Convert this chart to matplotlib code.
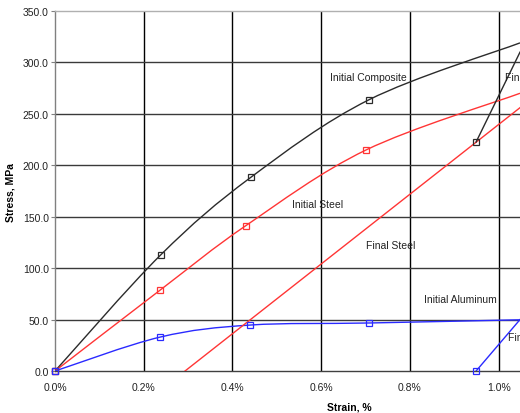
import numpy as np
import matplotlib
matplotlib.use("Agg")
import matplotlib.pyplot as plt
from matplotlib.path import Path
from matplotlib.patches import PathPatch

plt.rcParams['font.family'] = ['Liberation Sans', 'DejaVu Sans']

# strain in %, stress in MPa
comp_init_x = [0.0, 0.238, 0.441, 0.708, 1.048]
comp_init_y = [0.0, 112.8, 188.2, 263.8, 319.0]
comp_final_x = [0.949, 1.048]
comp_final_y = [222.6, 310.0]

steel_init_x = [0.0, 0.237, 0.430, 0.701, 1.048]
steel_init_y = [0.0, 78.7, 141.3, 214.9, 270.0]
steel_final_x = [0.293, 1.048]
steel_final_y = [0.0, 256.0]

alu_init_x = [0.0, 0.237, 0.440, 0.708, 1.048]
alu_init_y = [0.0, 33.0, 44.7, 46.7, 49.8]
alu_final_x = [0.949, 1.048]
alu_final_y = [0.0, 50.0]

labels = ["Initial Composite", "Final Composite", "Initial Steel",
          "Final Steel", "Initial Aluminum", "Final Aluminum"]
label_x = [0.619, 1.015, 0.535, 0.700, 0.832, 1.021]
label_y = [285.5, 285.5, 162.0, 122.5, 70.0, 33.0]

x_ticks = [0.0, 0.2, 0.4, 0.6, 0.8, 1.0]
y_ticks = [0, 50, 100, 150, 200, 250, 300, 350]


def smooth_path(xs, ys):
    # Excel-style smoothed line: cubic bezier through every point
    p = np.column_stack([xs, ys])
    n = len(p)
    verts = [p[0]]
    codes = [Path.MOVETO]
    for i in range(n - 1):
        p0 = p[i - 1] if i > 0 else p[i]
        p3 = p[i + 2] if i + 2 < n else p[i + 1]
        c1 = p[i] + (p[i + 1] - p0) / 6.0
        c2 = p[i + 1] - (p3 - p[i]) / 6.0
        verts += [c1, c2, p[i + 1]]
        codes += [Path.CURVE4] * 3
    return Path(verts, codes)


fig = plt.figure(figsize=(5.2, 4.14), dpi=100)
ax = fig.add_axes([0.1058, 0.1014, 0.8942, 0.8696])

black = '#2b2b2b'
red = '#ff3535'
blue = '#2a2aff'

series = [
    (comp_init_x, comp_init_y, black, 4),
    (steel_init_x, steel_init_y, red, 4),
    (alu_init_x, alu_init_y, blue, 4),
]
for xs, ys, col, nm in series:
    ax.add_patch(PathPatch(smooth_path(xs, ys), facecolor='none',
                           edgecolor=col, lw=1.0, zorder=3))
    ax.plot(xs[:nm], ys[:nm], ls='none', marker='s', ms=4.5, mfc='none',
            mec=col, mew=0.9, zorder=4, clip_on=False)

ax.plot(steel_final_x, steel_final_y, color=red, lw=1.0, zorder=3)
ax.plot(alu_final_x, alu_final_y, color=blue, lw=1.0, zorder=3)
ax.plot(alu_final_x[:1], alu_final_y[:1], ls='none', marker='s', ms=4.5,
        mfc='none', mec=blue, mew=0.9, zorder=4, clip_on=False)
ax.plot(comp_final_x, comp_final_y, color=black, lw=1.0, zorder=3)
ax.plot(comp_final_x[:1], comp_final_y[:1], ls='none', marker='s', ms=4.5,
        mfc='none', mec=black, mew=0.9, zorder=5)

# labels run off the right edge like in the original
for t, lx, ly in zip(labels, label_x, label_y):
    ax.text(lx, ly, t, fontsize=7.5, color='#222222', va='center', ha='left',
            clip_on=True, zorder=6)

ax.set_xlim(0, 1.048)
ax.set_ylim(0, 350)
ax.set_xticks(x_ticks)
ax.set_yticks(y_ticks)
ax.set_xticklabels(["%.1f%%" % v for v in x_ticks])
ax.set_yticklabels(["%.1f" % v for v in y_ticks])
for v in x_ticks[1:]:
    ax.axvline(v, color='black', lw=1.0, zorder=1)
for v in y_ticks[1:-1]:
    ax.axhline(v, color='#3a3a3a', lw=1.0, zorder=1)

ax.tick_params(axis='y', length=3, width=0.8, color='#808080', labelsize=7.5,
               labelcolor='#222222', pad=1.5)
ax.tick_params(axis='x', length=0, labelsize=7.5, labelcolor='#222222', pad=8)
ax.spines['left'].set_color('#808080')
ax.spines['top'].set_color('#b0b0b0')
ax.spines['bottom'].set_color('#404040')
ax.spines['right'].set_visible(False)
for s in ax.spines.values():
    s.set_linewidth(1.0)

ax.set_xlabel("Strain, %", fontsize=7.5, fontweight='bold')
ax.set_ylabel("Stress, MPa", fontsize=7.5, fontweight='bold', labelpad=5)
ax.xaxis.set_label_coords(0.632, -0.086)

fig.savefig("out.png", dpi=100)
